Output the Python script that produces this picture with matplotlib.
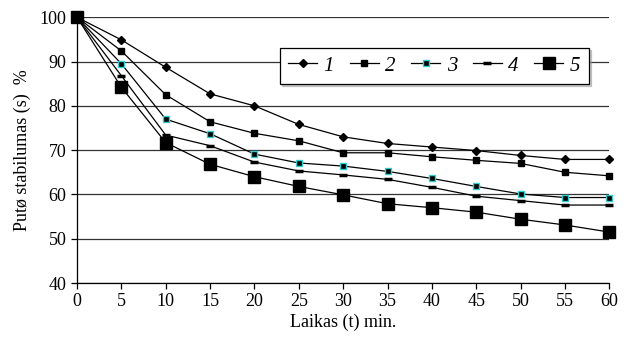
import matplotlib
matplotlib.use('Agg')
import matplotlib.pyplot as plt

plt.rcParams['font.family'] = 'Liberation Serif'

# time (min)
laikas = [0, 5, 10, 15, 20, 25, 30, 35, 40, 45, 50, 55, 60]

# foam stability (%) for the five series
s1 = [100, 94.9, 88.7, 82.7, 80.0, 75.8, 73.0, 71.5, 70.7, 69.9, 68.8, 67.9, 67.9]
s2 = [100, 92.4, 82.5, 76.4, 73.8, 72.1, 69.4, 69.4, 68.5, 67.7, 67.0, 65.0, 64.2]
s3 = [100, 89.5, 77.0, 73.7, 69.1, 67.1, 66.4, 65.2, 63.6, 61.8, 60.1, 59.3, 59.3]
s4 = [100, 86.8, 73.4, 71.0, 67.3, 65.3, 64.4, 63.4, 61.6, 59.6, 58.6, 57.6, 57.6]
s5 = [100, 84.2, 71.7, 66.8, 64.0, 61.8, 59.9, 57.9, 57.0, 56.0, 54.4, 53.1, 51.5]

fig = plt.figure(figsize=(6.27, 3.52), dpi=100)
ax = fig.add_axes([0.1228, 0.196, 0.8490, 0.755])

ax.plot(laikas, s1, color='black', lw=0.9, marker='D', ms=4, label='1', clip_on=False)
ax.plot(laikas, s2, color='black', lw=0.9, marker='s', ms=5, label='2', clip_on=False)
ax.plot(laikas, s3, color='black', lw=0.9, marker='s', ms=5, mfc='black', mec='#33cccc',
        mew=1.0, label='3', clip_on=False)
ax.plot(laikas, s4, color='black', lw=0.9, marker='_', ms=6, mew=2.5, label='4', clip_on=False)
ax.plot(laikas, s5, color='black', lw=0.9, marker='s', ms=8.5, label='5', clip_on=False, zorder=3)

ax.set_xlim(0, 60)
ax.set_ylim(40, 100)
ax.set_xticks(range(0, 61, 5))
ax.set_yticks(range(40, 101, 10))
ax.yaxis.grid(True, color='#333333', lw=0.9)
ax.set_axisbelow(True)
for side in ['top', 'right']:
    ax.spines[side].set_visible(False)
ax.spines['left'].set_linewidth(0.9)
ax.spines['bottom'].set_linewidth(0.9)
ax.tick_params(direction='out', length=4, width=0.9, labelsize=13)

ax.set_xlabel('Laikas (t) min.', fontsize=13, labelpad=2)
ax.set_ylabel('Putø stabilumas (s)  %', fontsize=13, labelpad=6)

leg = ax.legend(ncol=5, loc='upper left', bbox_to_anchor=(0.381, 0.885),
                prop={'style': 'italic', 'size': 15}, frameon=True, fancybox=False,
                shadow={'ox': 1.5, 'oy': -1.5, 'color': '#999999'}, handlelength=1.4,
                handletextpad=0.3, columnspacing=0.75, borderpad=0.4, borderaxespad=0)
leg.get_frame().set_edgecolor('black')
leg.get_frame().set_linewidth(0.9)

fig.savefig('out.png', dpi=100)
